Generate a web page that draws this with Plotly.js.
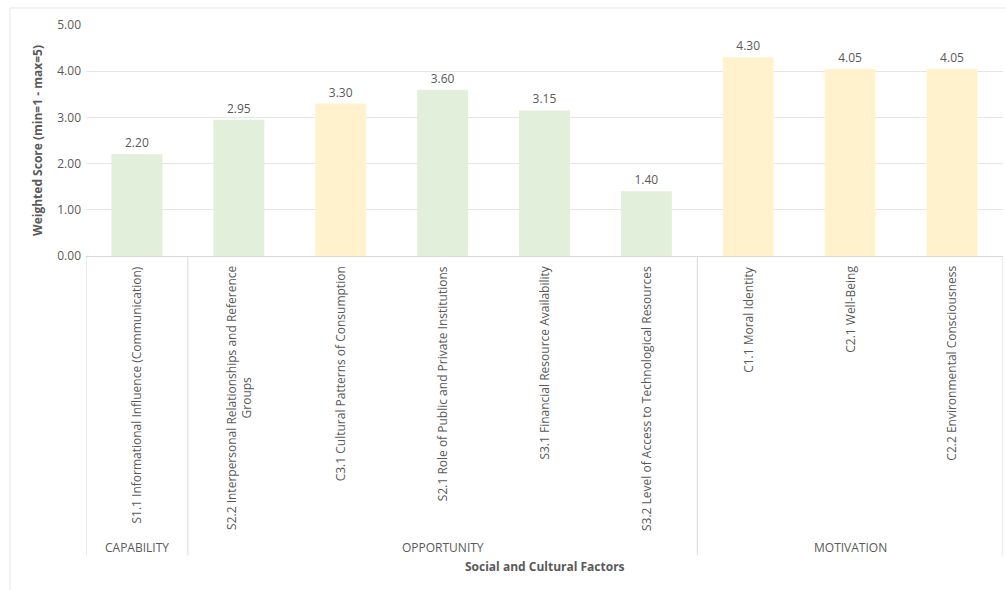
<!DOCTYPE html>
<html>
<head>
<meta charset="utf-8">
<script src="https://cdn.plot.ly/plotly-3.0.1.min.js"></script>
<style>html,body{margin:0;padding:0;background:#fff;}#chart{width:1006px;height:590px;}</style>
</head>
<body>
<div id="chart"></div>
<script>
const categories = [
  "S1.1 Informational Influence (Communication)",
  "S2.2 Interpersonal Relationships and Reference<br>Groups",
  "C3.1 Cultural Patterns of Consumption",
  "S2.1 Role of Public and Private Institutions",
  "S3.1 Financial Resource Availability",
  "S3.2 Level of Access to Technological Resources",
  "C1.1 Moral Identity",
  "C2.1 Well-Being",
  "C2.2 Environmental Consciousness"
];
const scores = [2.20, 2.95, 3.30, 3.60, 3.15, 1.40, 4.30, 4.05, 4.05];
const factorType = ["S", "S", "C", "S", "S", "S", "C", "C", "C"];
const groups = ["CAPABILITY", "OPPORTUNITY", "MOTIVATION"];
const groupSizes = [1, 5, 3];
const yTicks = [0, 1, 2, 3, 4, 5];

const typeColor = {S: "#e2efda", C: "#fff2cc"};
const textColor = "#595959";
const font = "Open Sans, sans-serif";
const idx = categories.map((_, i) => i);

const trace = {
  type: "bar",
  x: idx,
  y: scores,
  width: 0.5,
  marker: {color: factorType.map(t => typeColor[t])},
  text: scores.map(v => v.toFixed(2)),
  textposition: "outside",
  cliponaxis: false,
  textfont: {family: font, size: 12, color: textColor},
  hoverinfo: "x+y"
};

const annotations = [];
const shapes = [];
categories.forEach((c, i) => {
  annotations.push({
    xref: "x", yref: "paper", x: i, y: -0.035,
    text: c, showarrow: false, textangle: -90,
    xanchor: "center", yanchor: "top", align: "center",
    font: {family: font, size: 12, color: textColor}
  });
});
let start = 0;
const bounds = [-0.5];
groups.forEach((g, k) => {
  const end = start + groupSizes[k];
  annotations.push({
    xref: "x", yref: "paper", x: (start + end - 1) / 2, y: -1.264,
    text: g, showarrow: false, xanchor: "center", yanchor: "middle",
    font: {family: font, size: 12, color: textColor}
  });
  bounds.push(end - 0.5);
  start = end;
});
bounds.forEach(b => {
  shapes.push({type: "line", xref: "x", yref: "paper", x0: b, x1: b, y0: 0, y1: -1.297,
    line: {color: "#d9d9d9", width: 1}});
});
// outer chart frame
shapes.push({type: "rect", xref: "paper", yref: "paper", x0: -0.0829, x1: 1.1, y0: -1.6, y1: 1.0736,
  line: {color: "#e6e6e6", width: 1}, fillcolor: "rgba(0,0,0,0)", layer: "below"});

annotations.push({
  xref: "paper", yref: "paper", x: 0.5, y: -1.346,
  text: "<b>Social and Cultural Factors</b>", showarrow: false,
  xanchor: "center", yanchor: "middle",
  font: {family: font, size: 12, color: textColor}
});

const layout = {
  width: 1006, height: 590,
  margin: {l: 86, r: 3, t: 25, b: 334},
  paper_bgcolor: "#ffffff", plot_bgcolor: "#ffffff",
  showlegend: false,
  bargap: 0.5,
  xaxis: {
    range: [-0.5, 8.5], showticklabels: false, showgrid: false, zeroline: false,
    showline: true, linecolor: "#d9d9d9", linewidth: 1, ticks: "", fixedrange: true
  },
  yaxis: {
    range: [0, 5], tickvals: yTicks, tickformat: ".2f",
    showgrid: true, gridcolor: "#e6e6e6", gridwidth: 1, zeroline: false,
    showline: false, ticks: "", ticklen: 0, ticklabelstandoff: 4,
    tickfont: {family: font, size: 12, color: textColor},
    title: {text: "<b>Weighted Score (min=1 - max=5)</b>", standoff: 12,
      font: {family: font, size: 12, color: textColor}},
    automargin: false, fixedrange: true
  },
  annotations: annotations,
  shapes: shapes
};

Plotly.newPlot("chart", [trace], layout, {displayModeBar: false, staticPlot: true});
</script>
</body>
</html>
